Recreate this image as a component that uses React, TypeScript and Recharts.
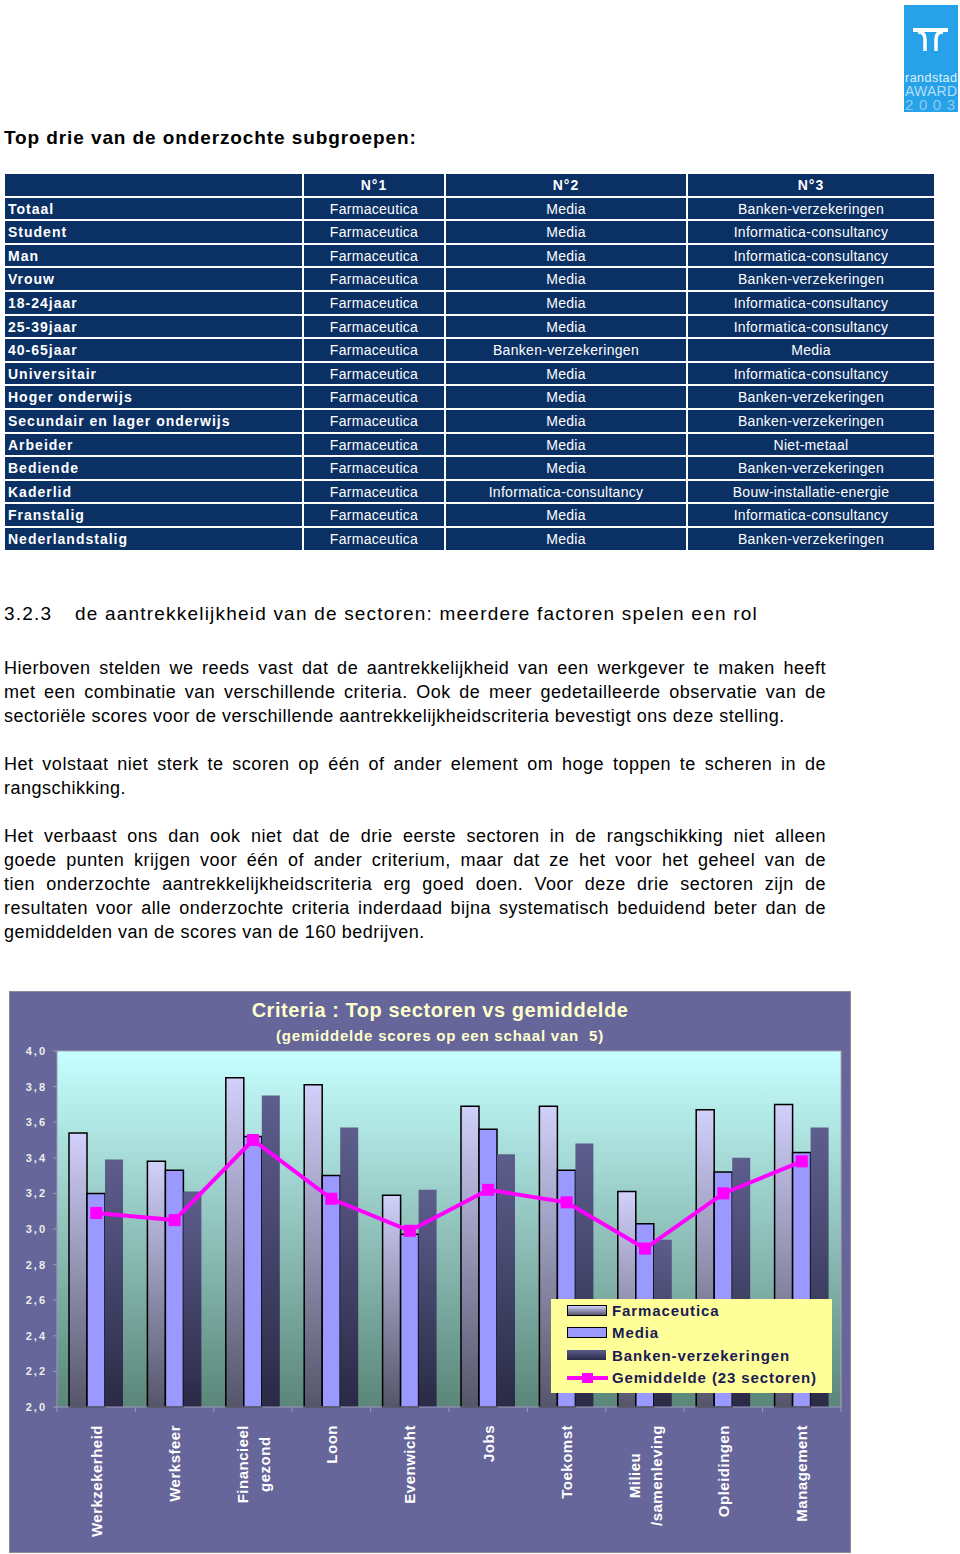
import React from "react";
import { ComposedChart, Bar, Line, XAxis, YAxis, CartesianGrid } from "recharts";

const FONT = "'Liberation Sans', Arial, sans-serif";

// ---- table: top 3 sectors per subgroup ----
const rankHeaders = ["N°1", "N°2", "N°3"];
const subgroups = [
  "Totaal", "Student", "Man", "Vrouw", "18-24jaar", "25-39jaar", "40-65jaar", "Universitair",
  "Hoger onderwijs", "Secundair en lager onderwijs", "Arbeider", "Bediende", "Kaderlid", "Franstalig", "Nederlandstalig",
];
const rank1 = Array(15).fill("Farmaceutica");
const rank2 = [
  "Media", "Media", "Media", "Media", "Media", "Media", "Banken-verzekeringen", "Media",
  "Media", "Media", "Media", "Media", "Informatica-consultancy", "Media", "Media",
];
const rank3 = [
  "Banken-verzekeringen", "Informatica-consultancy", "Informatica-consultancy", "Banken-verzekeringen",
  "Informatica-consultancy", "Informatica-consultancy", "Media", "Informatica-consultancy",
  "Banken-verzekeringen", "Banken-verzekeringen", "Niet-metaal", "Banken-verzekeringen",
  "Bouw-installatie-energie", "Informatica-consultancy", "Banken-verzekeringen",
];

// ---- chart data ----
const criteria = [
  "Werkzekerheid", "Werksfeer", "Financieel\ngezond", "Loon", "Evenwicht",
  "Jobs", "Toekomst", "Milieu\n/samenleving", "Opleidingen", "Management",
];
const farmaceutica = [3.54, 3.38, 3.85, 3.81, 3.19, 3.69, 3.69, 3.21, 3.67, 3.7];
const media = [3.2, 3.33, 3.52, 3.3, 2.97, 3.56, 3.33, 3.03, 3.32, 3.43];
const banken = [3.39, 3.21, 3.75, 3.57, 3.22, 3.42, 3.48, 2.94, 3.4, 3.57];
const gemiddelde = [3.09, 3.05, 3.5, 3.17, 2.99, 3.22, 3.15, 2.89, 3.2, 3.38];
const yTicks = [2.0, 2.2, 2.4, 2.6, 2.8, 3.0, 3.2, 3.4, 3.6, 3.8, 4.0];
const legendNames = ["Farmaceutica", "Media", "Banken-verzekeringen", "Gemiddelde (23 sectoren)"];

const chartData = criteria.map((c, i) => ({
  criterium: c,
  Farmaceutica: farmaceutica[i],
  Media: media[i],
  Banken: banken[i],
  Gemiddelde: gemiddelde[i],
}));

const paragraphs = [
  [
    "Hierboven stelden we reeds vast dat de aantrekkelijkheid van een werkgever te maken heeft",
    "met een combinatie van verschillende criteria. Ook de meer gedetailleerde observatie van de",
    "sectoriële scores voor de verschillende aantrekkelijkheidscriteria bevestigt ons deze stelling.",
  ],
  [
    "Het volstaat niet sterk te scoren op één of ander element om hoge toppen te scheren in de",
    "rangschikking.",
  ],
  [
    "Het verbaast ons dan ook niet dat de drie eerste sectoren in de rangschikking niet alleen",
    "goede punten krijgen voor één of ander criterium, maar dat ze het voor het geheel van de",
    "tien onderzochte aantrekkelijkheidscriteria erg goed doen. Voor deze drie sectoren zijn de",
    "resultaten voor alle onderzochte criteria inderdaad bijna systematisch beduidend beter dan de",
    "gemiddelden van de scores van de 160 bedrijven.",
  ],
];
const paragraphTops = [656, 752, 824];

let ctx: CanvasRenderingContext2D | null = null;
function textWidth(s: string) {
  if (!ctx) ctx = document.createElement("canvas").getContext("2d");
  if (!ctx) return s.length * 8;
  ctx.font = "bold 15px 'Liberation Sans', Arial";
  return ctx.measureText(s).width + s.length * 0.5;
}

function XTick(props: any) {
  const { x, y, payload, index, width, visibleTicksCount } = props;
  const band = width / visibleTicksCount;
  const lines = String(payload.value).split("\n");
  const L = Math.max(...lines.map(textWidth));
  const offs = lines.length === 1 ? [0] : [-11, 11];
  return (
    <g>
      <line x1={x - band / 2} x2={x - band / 2} y1={y - 8} y2={y - 3} stroke="#9a9ab8" />
      {index === visibleTicksCount - 1 && (
        <line x1={x + band / 2} x2={x + band / 2} y1={y - 8} y2={y - 3} stroke="#9a9ab8" />
      )}
      <g transform={`translate(${x},${y + 10}) rotate(-90)`}>
        {lines.map((ln, i) => (
          <text
            key={i}
            x={-L / 2}
            y={offs[i]}
            textAnchor="middle"
            dominantBaseline="central"
            fill="#ffffff"
            fontSize={15}
            fontWeight="bold"
            letterSpacing={0.5}
            fontFamily={FONT}
          >
            {ln}
          </text>
        ))}
      </g>
    </g>
  );
}

function YTick(props: any) {
  const { x, y, payload } = props;
  return (
    <text x={x} y={y} dy={4} textAnchor="end" fill="#eeeeee" fontSize={11} fontWeight="bold" letterSpacing={2} fontFamily={FONT}>
      {payload.value.toFixed(1).replace(".", ",")}
    </text>
  );
}

function SquareDot(props: any) {
  const { cx, cy } = props;
  return <rect x={cx - 6} y={cy - 6} width={12} height={12} fill="#ff00ff" />;
}

function Logo() {
  return (
    <svg style={{ position: "absolute", left: 904, top: 5 }} width={56} height={108}>
      <rect x={0} y={0} width={54} height={107} fill="#27a2e8" />
      <path d="M9,25 H44" stroke="#fff" strokeWidth={4} fill="none" />
      <path d="M21,46 V34 Q21,27 14,27 M32,46 V34 Q32,27 39,27" stroke="#fff" strokeWidth={3.5} fill="none" />
      <text x={1} y={77} fill="#dff2ff" fontSize={12.5} fontFamily={FONT} textLength={52}>randstad</text>
      <text x={1} y={91} fill="#b5defc" fontSize={14} fontFamily={FONT} textLength={52}>AWARD</text>
      <text x={1} y={105} fill="#8ccbf3" fontSize={15} fontFamily={FONT} textLength={50}>2003</text>
    </svg>
  );
}

function SubgroupTable() {
  const cell: React.CSSProperties = {
    background: "#0b3064",
    color: "#fff",
    height: 21.6,
    lineHeight: "22.6px",
    fontSize: 14,
    letterSpacing: 0.3,
    textAlign: "center",
    whiteSpace: "nowrap",
  };
  const head: React.CSSProperties = { ...cell, fontWeight: "bold", letterSpacing: 1 };
  const first: React.CSSProperties = { ...cell, textAlign: "left", fontWeight: "bold", letterSpacing: 1, paddingLeft: 3 };
  return (
    <div
      style={{
        position: "absolute",
        left: 5,
        top: 174,
        display: "grid",
        gridTemplateColumns: "297px 140px 240px 246px",
        gap: 2,
        background: "#fff",
      }}
    >
      <div style={cell} />
      {rankHeaders.map((h) => (
        <div key={h} style={head}>{h}</div>
      ))}
      {subgroups.map((s, i) => (
        <React.Fragment key={s}>
          <div style={first}>{s}</div>
          <div style={cell}>{rank1[i]}</div>
          <div style={cell}>{rank2[i]}</div>
          <div style={cell}>{rank3[i]}</div>
        </React.Fragment>
      ))}
    </div>
  );
}

function LegendBox() {
  const swatches = [
    <div style={{ width: 38, height: 9, border: "1.5px solid #000", background: "linear-gradient(#d0d0ff,#55556a)" }} />,
    <div style={{ width: 38, height: 9, border: "1.5px solid #000", background: "#9999ff" }} />,
    <div style={{ width: 39, height: 10, background: "linear-gradient(#5c5c8c,#2a2a48)" }} />,
    <svg width={41} height={12}>
      <line x1={0} x2={41} y1={6} y2={6} stroke="#ff00ff" strokeWidth={4} />
      <rect x={15} y={1} width={11} height={10} fill="#ff00ff" />
    </svg>,
  ];
  return (
    <div
      style={{
        position: "absolute",
        left: 541,
        top: 307,
        width: 281,
        height: 94,
        background: "#ffff99",
        boxSizing: "border-box",
        paddingTop: 0,
        paddingLeft: 16,
      }}
    >
      {legendNames.map((n, i) => (
        <div key={n} style={{ display: "flex", alignItems: "center", height: 22.5 }}>
          <div style={{ width: 45, display: "flex", alignItems: "center" }}>{swatches[i]}</div>
          <span style={{ fontSize: 15, fontWeight: "bold", color: "#1a1a55", letterSpacing: 0.9 }}>{n}</span>
        </div>
      ))}
    </div>
  );
}

function CriteriaChart() {
  return (
    <div
      style={{
        position: "absolute",
        left: 10,
        top: 992,
        width: 840,
        height: 560,
        background: "#66669a",
        outline: "1px solid #8a8a98",
      }}
    >
      <div
        style={{
          position: "absolute",
          left: 30,
          top: 5,
          width: 800,
          textAlign: "center",
          color: "#ffffcc",
          fontWeight: "bold",
        }}
      >
        <div style={{ fontSize: 20, lineHeight: "26px", letterSpacing: 0.55 }}>Criteria : Top sectoren vs gemiddelde</div>
        <div style={{ fontSize: 15, lineHeight: "25px", letterSpacing: 0.8 }}>(gemiddelde scores op een schaal van&nbsp; 5)</div>
      </div>
      <ComposedChart
        width={840}
        height={560}
        data={chartData}
        margin={{ top: 59, right: 9, bottom: 0, left: 0 }}
        barGap={0}
        style={{ position: "absolute", left: 0, top: 0 }}
      >
        <defs>
          <linearGradient id="plotBg" x1="0" y1="0" x2="0" y2="1">
            <stop offset="0%" stopColor="#c6ffff" />
            <stop offset="100%" stopColor="#5b8679" />
          </linearGradient>
          <linearGradient id="farmaFill" x1="0" y1="0" x2="0" y2="1">
            <stop offset="0%" stopColor="#d0d0fa" />
            <stop offset="100%" stopColor="#55556a" />
          </linearGradient>
          <linearGradient id="bankFill" x1="0" y1="0" x2="0" y2="1">
            <stop offset="0%" stopColor="#5e5e8e" />
            <stop offset="100%" stopColor="#2a2a46" />
          </linearGradient>
        </defs>
        <CartesianGrid fill="url(#plotBg)" stroke="#a8a8b0" horizontalPoints={[59]} verticalPoints={[831]} />
        <XAxis
          dataKey="criterium"
          interval={0}
          height={145}
          tickLine={false}
          axisLine={{ stroke: "#9a9ab8" }}
          tick={<XTick />}
        />
        <YAxis
          width={47}
          domain={[2, 4]}
          ticks={yTicks}
          tickSize={4}
          tickMargin={6}
          tickLine={{ stroke: "#9a9ab8" }}
          axisLine={{ stroke: "#9a9ab8" }}
          tick={<YTick />}
        />
        <Bar dataKey="Farmaceutica" barSize={18} fill="url(#farmaFill)" stroke="#000" strokeWidth={1.5} isAnimationActive={false} />
        <Bar dataKey="Media" barSize={18} fill="#9999ff" stroke="#000" strokeWidth={1.5} isAnimationActive={false} />
        <Bar dataKey="Banken" barSize={18} fill="url(#bankFill)" isAnimationActive={false} />
        <Line
          dataKey="Gemiddelde"
          stroke="#ff00ff"
          strokeWidth={4}
          dot={<SquareDot />}
          activeDot={false}
          isAnimationActive={false}
        />
      </ComposedChart>
      <LegendBox />
    </div>
  );
}

export default function App() {
  return (
    <div style={{ position: "relative", width: 960, height: 1554, background: "#fff", fontFamily: FONT, overflow: "hidden" }}>
      <style>{`body{margin:0}`}</style>
      <Logo />
      <div style={{ position: "absolute", left: 4, top: 126, fontSize: 19, fontWeight: "bold", lineHeight: "24px", letterSpacing: 0.9, whiteSpace: "nowrap" }}>
        Top drie van de onderzochte subgroepen:
      </div>
      <SubgroupTable />
      <div style={{ position: "absolute", left: 4, top: 602, fontSize: 19, lineHeight: "24px", letterSpacing: 1.2, whiteSpace: "nowrap" }}>
        3.2.3
        <span style={{ position: "absolute", left: 71 }}>de aantrekkelijkheid van de sectoren: meerdere factoren spelen een rol</span>
      </div>
      {paragraphs.map((lines, p) => (
        <div key={p} style={{ position: "absolute", left: 4, top: paragraphTops[p], width: 822, fontSize: 18, lineHeight: "24px", letterSpacing: 0.5 }}>
          {lines.map((ln, i) => (
            <div
              key={i}
              style={{
                whiteSpace: "nowrap",
                textAlign: "justify",
                textAlignLast: i < lines.length - 1 ? "justify" : "left",
              }}
            >
              {ln}
            </div>
          ))}
        </div>
      ))}
      <CriteriaChart />
    </div>
  );
}
